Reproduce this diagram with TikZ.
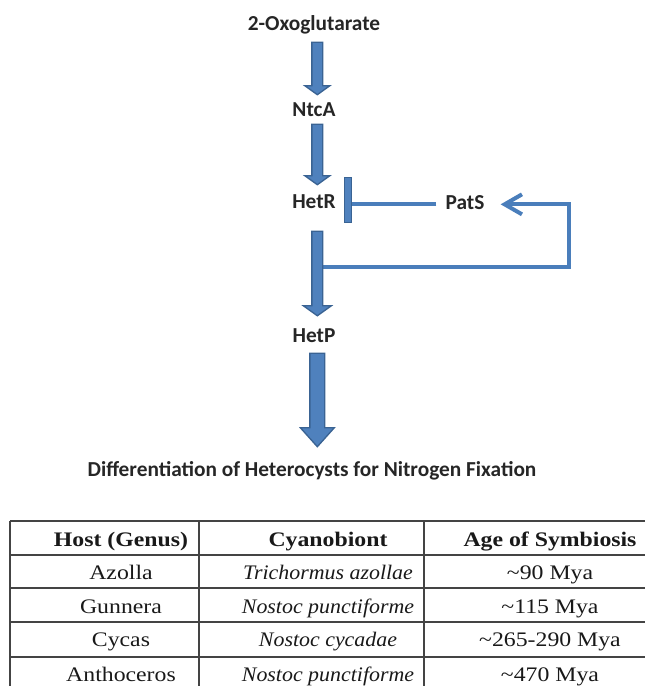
\documentclass[tikz,border=0pt]{standalone}
\usepackage{fontspec}
\setmainfont{Carlito}
\newfontfamily\tablefont[FakeStretch=1.15,ItalicFeatures={FakeStretch=1.06}]{Liberation Serif}
\usetikzlibrary{calc,arrows.meta}

\definecolor{arrow fill}{HTML}{4F81BD}
\definecolor{arrow edge}{HTML}{3A6393}
\definecolor{loop line}{HTML}{4A7EBB}
\definecolor{rule line}{HTML}{444444}

% the signalling chain, top to bottom
\def\pathway{{(314,30.7)/oxo/2-Oxoglutarate}, {(314,116.7)/ntca/NtcA}, {(314,208.3)/hetr/HetR}, {(465,209)/pats/PatS}, {(314,342.7)/hetp/HetP}}
\def\tablerows{{546.7/head/\textbf{Host (Genus)}/\textbf{Cyanobiont}/\textbf{Age of Symbiosis}}, {579.5/azolla/Azolla/\textit{Trichormus azollae}/\textasciitilde90 Mya}, {613/gunnera/Gunnera/\textit{Nostoc punctiforme}/\textasciitilde115 Mya}, {646.7/cycas/Cycas/\textit{Nostoc cycadae}/\textasciitilde265-290 Mya}, {681.5/anthoceros/Anthoceros/\textit{Nostoc punctiforme}/\textasciitilde470 Mya}}

\tikzstyle{protein}=[font=\fontsize{16}{19}\selectfont\bfseries, text=black!85, text height=10pt, text depth=3pt, inner sep=0pt, anchor=base]
\tikzstyle{block arrow}=[fill=arrow fill, draw=arrow edge, line width=1pt, line join=miter]
\tikzstyle{feedback}=[draw=loop line, line width=3pt]
\tikzstyle{stopbar}=[rectangle, fill=arrow fill, draw=arrow edge, line width=1pt, minimum width=5.2pt, minimum height=33.5pt, inner sep=0pt]
\tikzstyle{cell}=[font=\tablefont\fontsize{15.5}{18}\selectfont, text=black!90, inner sep=0pt, anchor=base]
\tikzstyle{rule}=[draw=rule line, line width=1.1pt]

\begin{document}
\begin{tikzpicture}[x=0.75pt,y=-0.75pt]
  \useasboundingbox (0,0) rectangle (645,686);

  % The proteins
  \foreach \pos/\name/\text in \pathway
    \node[protein] (\name) at \pos {\text};
  \node[protein] (caption) at (312,476.7) {Differentiation of Heterocysts for Nitrogen Fixation};

  % PatS holds HetR back
  \node[stopbar] (hetrbar) at (348,200) {};
  \path[feedback, shorten <=6.75pt] (pats.west) -- (pats.west -| hetrbar.east);

  % and HetR switches PatS on
  \coordinate (branch) at (318,267);
  \path[feedback, -{Straight Barb[length=13pt,width=15pt]}, shorten >=12pt]
    (branch) -| ($(pats.east)+(84,0)$) -- (pats.east);

  % The block arrows down the chain
  \foreach \source/\sink/\gapa/\gapb/\shaft/\head/\headlen in
      {oxo/ntca/5.5pt/6.3pt/4.1pt/9.4pt/6.75pt, ntca/hetr/2.5pt/7.5pt/4.1pt/9.4pt/6.75pt,
       hetr/hetp/14pt/10pt/4.1pt/10.5pt/7.5pt, hetp/caption/4.7pt/12.3pt/5.6pt/12.75pt/14.25pt}
    \path[block arrow] let \p1=([xshift=2.5pt]\source.south), \p2=(\sink.north) in
      (\x1-\shaft,\y1-\gapa) -- (\x1+\shaft,\y1-\gapa) -- (\x1+\shaft,\y2+\gapb+\headlen)
      -- (\x1+\head,\y2+\gapb+\headlen) -- (\x1,\y2+\gapb) -- (\x1-\head,\y2+\gapb+\headlen)
      -- (\x1-\shaft,\y2+\gapb+\headlen) -- cycle;

  % The table of hosts
  \foreach \y in {521,555,588,622,657}
    \path[rule] (10,\y) -- (645,\y);
  \foreach \x in {10,199,424}
    \path[rule] (\x,521) -- (\x,686);
  \foreach \base/\name/\host/\cyano/\age in \tablerows {
    \node[cell] (\name-host) at (121,\base) {\host};
    \node[cell] (\name-cyano) at (328,\base) {\cyano};
    \node[cell] (\name-age) at (550,\base) {\age};
  }
\end{tikzpicture}
\end{document}
